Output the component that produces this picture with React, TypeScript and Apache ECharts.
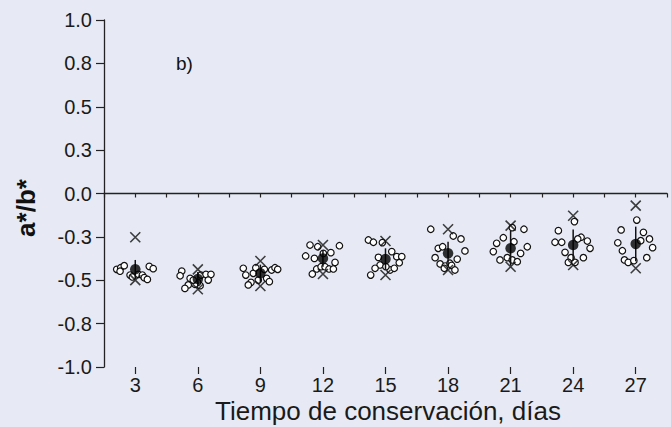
import React, { useEffect, useRef } from "react";
import * as echarts from "echarts";

const days = [3, 6, 9, 12, 15, 18, 21, 24, 27];
const means = [-0.437, -0.493, -0.46, -0.374, -0.378, -0.345, -0.316, -0.297, -0.291];
const sds = [0.054, 0.04, 0.05, 0.048, 0.062, 0.067, 0.1, 0.09, 0.1];
const maxima = [-0.252, -0.437, -0.389, -0.297, -0.274, -0.206, -0.185, -0.128, -0.07];
const minima = [-0.499, -0.552, -0.533, -0.464, -0.47, -0.441, -0.422, -0.412, -0.431];

const obsDay3 = [[2.11, -0.437], [2.3, -0.428], [2.47, -0.416], [2.27, -0.448], [3.67, -0.42], [3.86, -0.433], [2.75, -0.47], [2.86, -0.481], [3.15, -0.466], [3.34, -0.47], [3.43, -0.485], [3.58, -0.495]];
const obsDay6 = [[5.23, -0.447], [5.15, -0.474], [5.63, -0.489], [5.54, -0.527], [5.38, -0.547], [6.15, -0.47], [6.39, -0.466], [6.63, -0.466], [6.5, -0.499], [6.11, -0.531], [5.99, -0.512], [5.86, -0.523], [5.78, -0.499]];
const obsDay9 = [[8.18, -0.431], [8.3, -0.47], [8.66, -0.46], [8.78, -0.428], [9.19, -0.437], [9.54, -0.441], [9.7, -0.428], [9.83, -0.437], [9.3, -0.489], [9.43, -0.508], [8.55, -0.512], [8.42, -0.527], [8.9, -0.499]];
const obsDay12 = [[11.38, -0.297], [11.75, -0.307], [12.79, -0.301], [11.17, -0.36], [11.59, -0.374], [12.38, -0.341], [12.58, -0.397], [12.02, -0.345], [11.7, -0.435], [11.91, -0.422], [12.1, -0.422], [12.29, -0.435], [12.5, -0.435], [11.49, -0.464]];
const obsDay15 = [[14.18, -0.268], [14.42, -0.281], [14.85, -0.283], [14.66, -0.368], [15.3, -0.335], [15.54, -0.364], [15.78, -0.364], [15.66, -0.399], [14.74, -0.412], [14.5, -0.431], [14.29, -0.47], [15.22, -0.441], [15.42, -0.431], [15.02, -0.422]];
const obsDay18 = [[17.17, -0.206], [18.25, -0.245], [18.62, -0.262], [17.53, -0.316], [17.74, -0.307], [18.81, -0.331], [17.38, -0.37], [18.44, -0.378], [17.62, -0.406], [17.86, -0.418], [18.09, -0.402], [18.17, -0.414], [18.33, -0.441], [17.82, -0.431]];
const obsDay21 = [[21.08, -0.197], [21.64, -0.206], [20.65, -0.255], [21.16, -0.278], [20.33, -0.287], [21.8, -0.307], [20.17, -0.335], [21.48, -0.345], [20.49, -0.383], [20.84, -0.37], [21.08, -0.383], [21.32, -0.393]];
const obsDay24 = [[24.06, -0.162], [23.29, -0.214], [23.13, -0.281], [23.45, -0.281], [24.38, -0.252], [24.22, -0.262], [24.68, -0.274], [24.81, -0.316], [23.61, -0.339], [24.49, -0.37], [23.9, -0.37], [23.77, -0.397], [24.09, -0.397]];
const obsDay27 = [[27.05, -0.153], [26.3, -0.21], [27.37, -0.224], [27.66, -0.262], [27.24, -0.272], [26.14, -0.284], [27.81, -0.312], [26.36, -0.33], [27.53, -0.37], [26.46, -0.383], [26.64, -0.397], [26.91, -0.387]];

const yTicks = [-1, -0.75, -0.5, -0.25, 0, 0.25, 0.5, 0.75, 1];

const FONT = "'Liberation Sans', Arial, sans-serif";
const BG = "#e7eaf4";

export default function App() {
  const ref = useRef<HTMLDivElement>(null);
  useEffect(() => {
    document.body.style.margin = "0";
    const chart = echarts.init(ref.current!, null, { renderer: "svg" });
    const observations = [
      ...obsDay3, ...obsDay6, ...obsDay9, ...obsDay12, ...obsDay15,
      ...obsDay18, ...obsDay21, ...obsDay24, ...obsDay27,
    ];
    const crossPath = "path://M0,0L10,10M10,0L0,10";
    chart.setOption({
      animation: false,
      backgroundColor: BG,
      grid: { left: 104, right: 4, top: 20, bottom: 60, containLabel: false, outerBoundsMode: "none" },
      xAxis: [
        {
          type: "value",
          min: 1.5,
          max: 28.5,
          interval: 1.5,
          position: "bottom",
          axisLine: { show: true, lineStyle: { color: "#222", width: 1.3 } },
          axisTick: { show: true, length: 4, lineStyle: { color: "#222", width: 1.2 } },
          axisLabel: {
            color: "#1a1a1a",
            fontFamily: FONT,
            fontSize: 20,
            lineHeight: 20,
            margin: 8,
            formatter: (v: number) => (Math.abs(v % 3) < 1e-9 ? String(v) : ""),
          },
          splitLine: { show: false },
        },
        {
          type: "value",
          min: 1.5,
          max: 28.5,
          interval: 1.5,
          position: "bottom",
          axisLine: { show: false },
          axisTick: { show: true, length: 7, customValues: days, lineStyle: { color: "#222", width: 1.2 } },
          axisLabel: { show: false },
          splitLine: { show: false },
        },
      ],
      yAxis: {
        type: "value",
        min: yTicks[0],
        max: yTicks[yTicks.length - 1],
        interval: 0.25,
        axisLine: { show: true, lineStyle: { color: "#222", width: 1.3 } },
        axisTick: { show: true, length: 8, lineStyle: { color: "#222", width: 1.2 } },
        axisLabel: {
          color: "#1a1a1a",
          fontFamily: FONT,
          fontSize: 20,
          margin: 12,
          formatter: (v: number) => v.toFixed(1),
        },
        splitLine: { show: false },
      },
      graphic: [
        {
          type: "text",
          x: 26,
          y: 208,
          rotation: Math.PI / 2,
          style: {
            text: "a*/b*",
            fontFamily: FONT,
            fontSize: 26,
            fontWeight: "bold",
            fill: "#111",
            align: "center",
            verticalAlign: "middle",
          },
        },
        {
          type: "text",
          x: 388,
          y: 411,
          style: {
            text: "Tiempo de conservación, días",
            fontFamily: FONT,
            fontSize: 26,
            lineHeight: 26,
            fill: "#1a1a1a",
            align: "center",
            verticalAlign: "middle",
          },
        },
        {
          type: "text",
          x: 176,
          y: 63,
          style: {
            text: "b)",
            fontFamily: FONT,
            fontSize: 19,
            fill: "#111",
            align: "left",
            verticalAlign: "middle",
          },
        },
      ],
      series: [
        {
          type: "scatter",
          name: "obs",
          data: observations,
          symbol: "circle",
          symbolSize: 6.5,
          itemStyle: { color: "#ffffff", borderColor: "#111", borderWidth: 1.2, opacity: 1 },
          z: 2,
        },
        {
          type: "custom",
          name: "sd",
          data: days.map((d, i) => [d, means[i] - sds[i], means[i] + sds[i]]),
          encode: { x: 0, y: [1, 2] },
          renderItem: (params: any, api: any) => {
            const x = api.value(0);
            const p1 = api.coord([x, api.value(1)]);
            const p2 = api.coord([x, api.value(2)]);
            return {
              type: "line",
              shape: { x1: p1[0], y1: p1[1], x2: p2[0], y2: p2[1] },
              style: { stroke: "#111", lineWidth: 1.5 },
            };
          },
          z: 3,
        },
        {
          type: "scatter",
          name: "max",
          data: days.map((d, i) => [d, maxima[i]]),
          symbol: crossPath,
          symbolSize: 10,
          symbolKeepAspect: true,
          itemStyle: { color: "none", borderColor: "#111", borderWidth: 1.6 },
          z: 4,
        },
        {
          type: "scatter",
          name: "min",
          data: days.map((d, i) => [d, minima[i]]),
          symbol: crossPath,
          symbolSize: 10,
          symbolKeepAspect: true,
          itemStyle: { color: "none", borderColor: "#111", borderWidth: 1.6 },
          z: 4,
        },
        {
          type: "scatter",
          name: "mean",
          data: days.map((d, i) => [d, means[i]]),
          symbol: "circle",
          symbolSize: 10.5,
          itemStyle: { color: "#000" },
          z: 5,
        },
      ],
    });
    return () => chart.dispose();
  }, []);
  return (
    <div
      ref={ref}
      style={{ position: "fixed", left: 0, top: 0, width: 671, height: 427 }}
    />
  );
}
